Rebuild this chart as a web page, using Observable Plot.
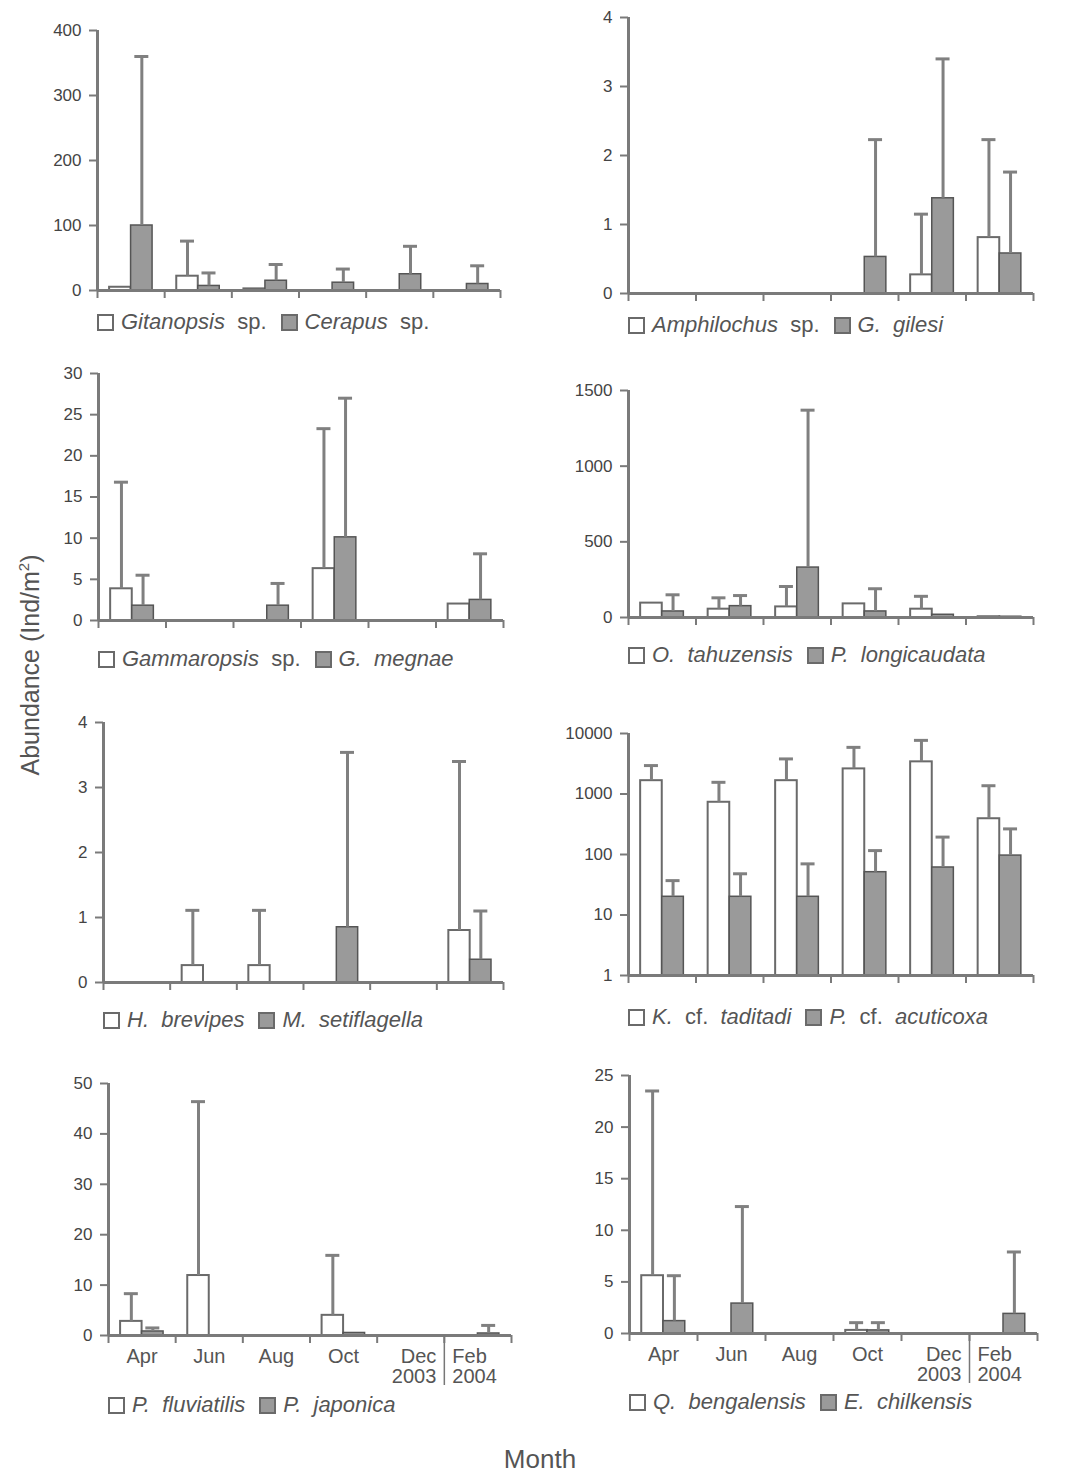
<!DOCTYPE html>
<html>
<head>
<meta charset="utf-8">
<script src="https://cdn.jsdelivr.net/npm/d3@7"></script>
<script src="https://cdn.jsdelivr.net/npm/@observablehq/plot@0.6"></script>
<style>
  body { margin: 0; background: #fff; font-family: "Liberation Sans", Arial, sans-serif; }
  #root { position: relative; width: 1074px; height: 1477px; overflow: hidden; background: #fff; }
  .panel { position: absolute; }
  .legend { position: absolute; font-size: 22px; color: #555; white-space: nowrap; display: flex; align-items: center; height: 26px; }
  .sw { display: inline-block; width: 13px; height: 13px; border: 2px solid #6a6a6a; margin-right: 7px; box-sizing: content-box; }
  .sw.w { background: #fff; }
  .sw.g { background: #9a9a9a; }
  .ytitle { position: absolute; left: 30px; top: 665px; transform: translate(-50%, -50%) rotate(-90deg); font-size: 25px; color: #555; white-space: nowrap; }
  .xtitle { position: absolute; left: 540px; top: 1444px; transform: translateX(-50%); font-size: 26px; line-height: 30px; color: #555; }
</style>
</head>
<body>
<div id="root"></div>
<script>
// ---------- data ----------
const months = ["Apr", "Jun", "Aug", "Oct", "Dec", "Feb"];

// Panel 1
const gitanopsis   = [5, 22, 2.5, 0, 0, 0];
const gitanopsisSD = [0, 54, 0, 0, 0, 0];
const cerapus      = [100, 7, 15, 12, 25, 10];
const cerapusSD    = [260, 20, 25, 21, 43, 28];
// Panel 2
const amphilochus   = [0, 0, 0, 0, 0.27, 0.81];
const amphilochusSD = [0, 0, 0, 0, 0.88, 1.42];
const gilesi        = [0, 0, 0, 0.53, 1.38, 0.58];
const gilesiSD      = [0, 0, 0, 1.7, 2.02, 1.18];
// Panel 3
const gammaropsis   = [3.85, 0, 0, 6.3, 0, 2.0];
const gammaropsisSD = [12.95, 0, 0, 17, 0, 0];
const megnae        = [1.8, 0, 1.8, 10.1, 0, 2.5];
const megnaeSD      = [3.7, 0, 2.7, 16.9, 0, 5.6];
// Panel 4
const tahuzensis     = [95, 55, 70, 90, 55, 5];
const tahuzensisSD   = [0, 75, 135, 0, 85, 0];
const longicaudata   = [40, 75, 330, 40, 18, 5];
const longicaudataSD = [110, 70, 1040, 150, 0, 0];
// Panel 5
const brevipes       = [0, 0.26, 0.26, 0, 0, 0.8];
const brevipesSD     = [0, 0.85, 0.85, 0, 0, 2.6];
const setiflagella   = [0, 0, 0, 0.85, 0, 0.35];
const setiflagellaSD = [0, 0, 0, 2.69, 0, 0.75];
// Panel 6 (log scale)
const taditadi     = [1660, 730, 1660, 2600, 3400, 390];
const taditadiSD   = [1290, 830, 2140, 3300, 4300, 980];
const acuticoxa    = [20, 20, 20, 51, 61, 96];
const acuticoxaSD  = [17, 28, 50, 65, 133, 169];
// Panel 7
const fluviatilis   = [2.8, 11.9, 0, 4, 0, 0];
const fluviatilisSD = [5.5, 34.5, 0, 11.9, 0, 0];
const japonica      = [0.8, 0, 0, 0.5, 0, 0.4];
const japonicaSD    = [0.7, 0, 0, 0, 0, 1.6];
// Panel 8
const bengalensis   = [5.6, 0, 0, 0.3, 0, 0];
const bengalensisSD = [17.9, 0, 0, 0.75, 0, 0];
const chilkensis    = [1.2, 2.9, 0, 0.3, 0, 1.9];
const chilkensisSD  = [4.4, 9.4, 0, 0.75, 0, 6];

// tick labels
const ticks1 = [0, 100, 200, 300, 400];
const ticks2 = [0, 1, 2, 3, 4];
const ticks3 = [0, 5, 10, 15, 20, 25, 30];
const ticks4 = [0, 500, 1000, 1500];
const ticks5 = [0, 1, 2, 3, 4];
const ticks6 = [1, 10, 100, 1000, 10000];
const ticks7 = [0, 10, 20, 30, 40, 50];
const ticks8 = [0, 5, 10, 15, 20, 25];

// ---------- layout (plot-area boxes in page pixels) ----------
const panels = [
  {a: gitanopsis, aSD: gitanopsisSD, b: cerapus, bSD: cerapusSD, max: 400, ticks: ticks1,
   box: [97, 500, 30, 290], legend: [["Gitanopsis", "  sp."], ["Cerapus", "  sp."]], ly: 322},
  {a: amphilochus, aSD: amphilochusSD, b: gilesi, bSD: gilesiSD, max: 4, ticks: ticks2,
   box: [628, 1033, 17, 293], legend: [["Amphilochus", "  sp."], ["G.  gilesi", ""]], ly: 325},
  {a: gammaropsis, aSD: gammaropsisSD, b: megnae, bSD: megnaeSD, max: 30, ticks: ticks3,
   box: [98, 503, 373, 620], legend: [["Gammaropsis", "  sp."], ["G.  megnae", ""]], ly: 659},
  {a: tahuzensis, aSD: tahuzensisSD, b: longicaudata, bSD: longicaudataSD, max: 1500, ticks: ticks4,
   box: [628, 1033, 390, 617], legend: [["O.  tahuzensis", ""], ["P.  longicaudata", ""]], ly: 655},
  {a: brevipes, aSD: brevipesSD, b: setiflagella, bSD: setiflagellaSD, max: 4, ticks: ticks5,
   box: [103, 503, 722, 982], legend: [["H.  brevipes", ""], ["M.  setiflagella", ""]], ly: 1020},
  {a: taditadi, aSD: taditadiSD, b: acuticoxa, bSD: acuticoxaSD, max: 10000, ticks: ticks6, log: true,
   box: [628, 1033, 733, 975], legend: [["K.", "  cf.  ", "taditadi"], ["P.", "  cf.  ", "acuticoxa"]], ly: 1017},
  {a: fluviatilis, aSD: fluviatilisSD, b: japonica, bSD: japonicaSD, max: 50, ticks: ticks7,
   box: [108, 511, 1083, 1335], legend: [["P.  fluviatilis", ""], ["P.  japonica", ""]], ly: 1405, months: true},
  {a: bengalensis, aSD: bengalensisSD, b: chilkensis, bSD: chilkensisSD, max: 25, ticks: ticks8,
   box: [629, 1037, 1075, 1333], legend: [["Q.  bengalensis", ""], ["E.  chilkensis", ""]], ly: 1402, months: true}
];

const root = document.getElementById("root");
const AX = "#7a7a7a";
const ERR = "#808080";

function makePanel(cfg) {
  const [left, right, top, bottom] = cfg.box;
  const mL = 72, mR = 14, mT = 14, mB = cfg.months ? 70 : 20;
  const w = right - left, h = bottom - top;
  const bw = w / 6;
  const base = cfg.log ? 1 : 0;
  const rows = months.map((m, i) => ({i, m, a: cfg.a[i], aSD: cfg.aSD[i], b: cfg.b[i], bSD: cfg.bSD[i]}));
  const padOut = bw * 0.18, half = bw * 0.5;
  const off = bw * 0.16;   // bar centre offset from interval centre
  const capHalf = 7;

  const marks = [
    Plot.rectY(rows.filter(d => d.a > base), {
      x1: d => d.i, x2: d => d.i + 1, y1: base, y2: "a",
      insetLeft: padOut, insetRight: half, fill: "#fff", stroke: "#6a6a6a", strokeWidth: 2
    }),
    Plot.rectY(rows.filter(d => d.b > base), {
      x1: d => d.i, x2: d => d.i + 1, y1: base, y2: "b",
      insetLeft: half, insetRight: padOut, fill: "#9a9a9a", stroke: "#555", strokeWidth: 1.5
    }),
    Plot.ruleX(rows.filter(d => d.aSD > 0), {
      x: d => d.i + 0.5, y1: "a", y2: d => d.a + d.aSD, dx: -off, stroke: ERR, strokeWidth: 3
    }),
    Plot.ruleY(rows.filter(d => d.aSD > 0), {
      y: d => d.a + d.aSD, x1: d => d.i, x2: d => d.i + 1,
      insetLeft: half - off - capHalf, insetRight: half + off - capHalf, stroke: ERR, strokeWidth: 3
    }),
    Plot.ruleX(rows.filter(d => d.bSD > 0), {
      x: d => d.i + 0.5, y1: "b", y2: d => d.b + d.bSD, dx: off, stroke: ERR, strokeWidth: 3
    }),
    Plot.ruleY(rows.filter(d => d.bSD > 0), {
      y: d => d.b + d.bSD, x1: d => d.i, x2: d => d.i + 1,
      insetLeft: half + off - capHalf, insetRight: half - off - capHalf, stroke: ERR, strokeWidth: 3
    }),
    Plot.ruleY([base], {stroke: AX, strokeWidth: 3}),
    Plot.ruleX([0], {y1: base, y2: cfg.max, stroke: AX, strokeWidth: 3}),
    Plot.axisY({ticks: cfg.ticks, tickSize: 8, tickPadding: 8, fontSize: 17, label: null,
      tickFormat: d3.format("d"), stroke: AX, strokeWidth: 2, fill: "#444"}),
    Plot.axisX({ticks: d3.range(7), tickSize: 8, tickFormat: () => "", label: null, stroke: AX, strokeWidth: 2})
  ];

  if (cfg.months) {
    marks.push(
      Plot.text(months.slice(0, 4), {x: (d, i) => i + 0.5, frameAnchor: "bottom", lineAnchor: "top",
        dy: 13, fontSize: 20, fill: "#555"}),
      Plot.text([months[4] + "\n2003"], {x: 5, frameAnchor: "bottom", lineAnchor: "top", textAnchor: "end",
        dx: -8, dy: 13, fontSize: 20, lineHeight: 1, fill: "#555"}),
      Plot.text([months[5] + "\n2004"], {x: 5, frameAnchor: "bottom", lineAnchor: "top", textAnchor: "start",
        dx: 8, dy: 13, fontSize: 20, lineHeight: 1, fill: "#555"}),
      Plot.axisX({ticks: [5], tickSize: 50, tickFormat: () => "", label: null, stroke: "#777", strokeWidth: 1.5})
    );
  }

  const plot = Plot.plot({
    width: w + mL + mR,
    height: h + mT + mB,
    marginLeft: mL, marginRight: mR, marginTop: mT, marginBottom: mB,
    style: {fontFamily: "Liberation Sans, Arial, sans-serif", color: "#555", background: "transparent"},
    x: {domain: [0, 6]},
    y: cfg.log ? {type: "log", domain: [1, cfg.max]} : {domain: [0, cfg.max]},
    marks
  });
  plot.classList.add("panel");
  plot.style.left = (left - mL) + "px";
  plot.style.top = (top - mT) + "px";
  root.appendChild(plot);

  const lg = document.createElement("div");
  lg.className = "legend";
  lg.style.left = left + "px";
  lg.style.top = (cfg.ly - 13) + "px";
  cfg.legend.forEach((parts, k) => {
    const sw = document.createElement("span");
    sw.className = "sw " + (k === 0 ? "w" : "g");
    if (k === 1) sw.style.marginLeft = "14px";
    lg.appendChild(sw);
    parts.forEach((p, j) => {
      const s = document.createElement("span");
      s.style.whiteSpace = "pre";
      s.textContent = p;
      s.style.fontStyle = (j % 2 === 0) ? "italic" : "normal";
      lg.appendChild(s);
    });
  });
  root.appendChild(lg);
}

panels.forEach(makePanel);

const yt = document.createElement("div");
yt.className = "ytitle";
yt.innerHTML = "Abundance (Ind/m<sup style='font-size:15px'>2</sup>)";
root.appendChild(yt);

const xt = document.createElement("div");
xt.className = "xtitle";
xt.textContent = "Month";
root.appendChild(xt);
</script>
</body>
</html>
